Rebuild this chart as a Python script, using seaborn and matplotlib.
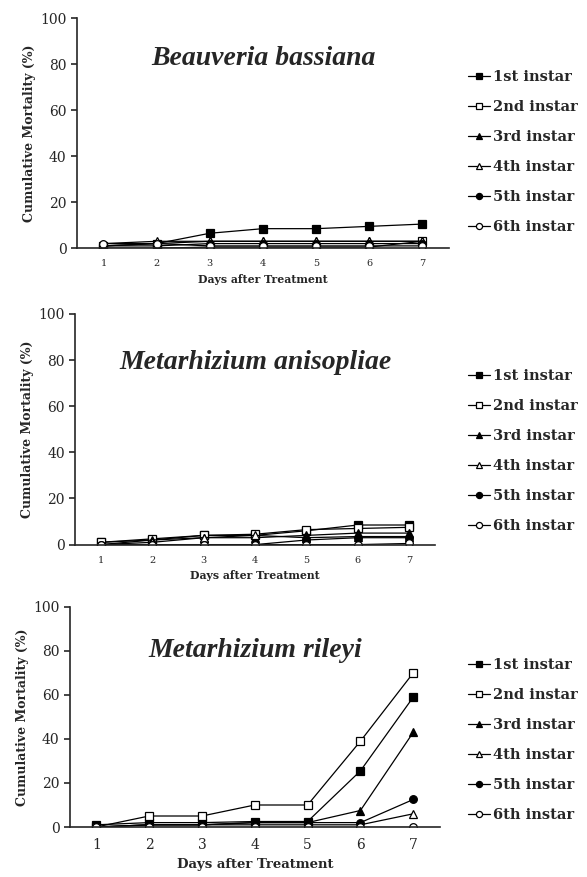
"""Cumulative mortality of instars treated with three entomopathogenic fungi."""

import matplotlib

matplotlib.use("Agg")
import matplotlib.pyplot as plt
import pandas as pd
import seaborn as sns

days = [1, 2, 3, 4, 5, 6, 7]
instars = ["1st instar", "2nd instar", "3rd instar", "4th instar", "5th instar", "6th instar"]

beauveria = {
    "1st instar": [1, 2, 6.5, 8.5, 8.5, 9.5, 10.5],
    "2nd instar": [0, 0, 0.5, 0.5, 0.5, 0.5, 3],
    "3rd instar": [1, 2, 3, 3, 3, 3, 3],
    "4th instar": [2, 3, 3, 3, 3, 3, 3],
    "5th instar": [1, 1, 2, 2, 2, 2, 2],
    "6th instar": [2, 2, 1, 1, 1, 1, 1],
}
anisopliae = {
    "1st instar": [1, 2, 4, 4, 6, 8.5, 8.5],
    "2nd instar": [1, 2.5, 4, 4.5, 6.5, 7, 7.5],
    "3rd instar": [0, 2, 3, 3, 4, 5, 5],
    "4th instar": [0, 1, 3, 4, 3, 3.5, 3.5],
    "5th instar": [0, 0, 0, 0, 2, 3, 3],
    "6th instar": [0, 0, 0, 0, 0, 0, 0.5],
}
rileyi = {
    "1st instar": [1, 2, 2, 2.5, 2.5, 25.5, 59],
    "2nd instar": [0, 5, 5, 10, 10, 39, 70],
    "3rd instar": [0, 1, 1, 2, 2, 7.5, 43],
    "4th instar": [0, 1, 1, 1, 1, 1, 6],
    "5th instar": [0, 1, 1, 2, 2, 2, 12.5],
    "6th instar": [0, 0, 0, 0, 0, 0, 0],
}

titles = ["Beauveria bassiana", "Metarhizium anisopliae", "Metarhizium rileyi"]
series = [beauveria, anisopliae, rileyi]

markers = {
    "1st instar": ("s", "black"),
    "2nd instar": ("s", "white"),
    "3rd instar": ("^", "black"),
    "4th instar": ("^", "white"),
    "5th instar": ("o", "black"),
    "6th instar": ("o", "white"),
}

# axes boxes in figure fractions: left, bottom, width, height
boxes = [
    (0.131, 0.717, 0.634, 0.262),
    (0.128, 0.379, 0.613, 0.263),
    (0.119, 0.057, 0.630, 0.251),
]
title_y = [0.826, 0.79, 0.80]
legend_y = [0.827, 0.486, 0.156]
small = [True, True, False]

sns.set_style("ticks")
plt.rcParams["font.family"] = ["DejaVu Serif"]

fig = plt.figure(figsize=(5.87, 8.77), dpi=100)

for box, title, data, ty, ly, is_small in zip(boxes, titles, series, title_y, legend_y, small):
    ax = fig.add_axes(box)
    for name in instars:
        df = pd.DataFrame({"day": days, "mortality": data[name]})
        marker, face = markers[name]
        sns.lineplot(
            data=df, x="day", y="mortality", ax=ax, color="black", linewidth=0.9,
            marker=marker, markersize=5.5, markerfacecolor=face,
            markeredgecolor="black", markeredgewidth=0.9, label=name,
        )
    ax.set_xlim(0.5, 7.5)
    ax.set_ylim(0, 100)
    ax.set_xticks(days)
    ax.set_yticks([0, 20, 40, 60, 80, 100])
    sns.despine(ax=ax)
    ax.spines["left"].set_linewidth(1.2)
    ax.spines["bottom"].set_linewidth(1.2)
    ax.tick_params(axis="x", length=0, pad=8, labelsize=7 if is_small else 10)
    ax.tick_params(axis="y", length=4, width=1.2, direction="out", labelsize=10)
    ax.set_xlabel("Days after Treatment", fontsize=7.8 if is_small else 9.5,
                  fontweight="bold", labelpad=4)
    ax.set_ylabel("Cumulative Mortality (%)", fontsize=9,
                  fontweight="bold", labelpad=3)
    ax.text(0.5, ty, title, transform=ax.transAxes, ha="center", va="center",
            fontsize=20, fontstyle="italic", fontweight="bold",
            family=["Liberation Serif", "DejaVu Serif"])
    ax.get_legend().remove()
    handles, labels = ax.get_legend_handles_labels()
    fig.legend(handles, labels, loc="center left", bbox_to_anchor=(0.775, ly),
               frameon=False, handlelength=1.5, handletextpad=0.2, markerscale=0.8,
               labelspacing=1.1, prop={"weight": "bold", "size": 10.5})

fig.savefig("out.png", dpi=100)
plt.close(fig)
